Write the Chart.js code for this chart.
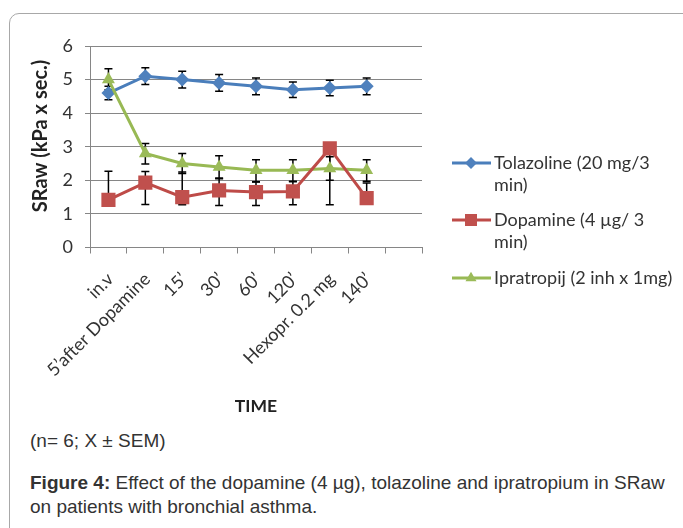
<!DOCTYPE html>
<html>
<head>
<meta charset="utf-8">
<script src="https://cdn.jsdelivr.net/npm/chart.js@4.4.1/dist/chart.umd.min.js"></script>
<style>
  html, body { margin: 0; padding: 0; background: #fff; }
  body { width: 683px; height: 528px; overflow: hidden; position: relative; font-family: "Liberation Sans", Arial, sans-serif; }
  .frame { position: absolute; left: 9px; top: 13px; width: 720px; height: 560px; border: 1px solid #a8a8a8; border-radius: 10px; }
  #wrap { position: absolute; left: 0; top: 0; width: 683px; height: 425px; }
  .note { position: absolute; left: 30px; top: 430px; font-size: 19px; line-height: 22px; color: #333; }
  .caption { position: absolute; left: 30px; top: 471px; font-size: 19px; line-height: 24px; color: #333; white-space: nowrap; }
</style>
</head>
<body>
<div class="frame"></div>
<div id="wrap"><canvas id="chart" width="683" height="425"></canvas></div>
<div class="note">(n= 6; X ± SEM)</div>
<div class="caption"><b>Figure 4:</b> Effect of the dopamine (4 µg), tolazoline and ipratropium in SRaw<br>on patients with bronchial asthma.</div>
<script>
// Chart data
const timeLabels = ['in.v', '5’after Dopamine', '15’', '30’', '60’', '120’', 'Hexopr. 0.2 mg', '140’', ''];
const yTicks = [0, 1, 2, 3, 4, 5, 6];

const tolazoline = [4.6, 5.1, 5.0, 4.9, 4.8, 4.7, 4.75, 4.8];
const tolazolineErrUp = [0.2, 0.25, 0.25, 0.25, 0.25, 0.23, 0.23, 0.25];
const tolazolineErrDown = [0.2, 0.25, 0.25, 0.25, 0.25, 0.23, 0.23, 0.25];

const dopamine = [1.42, 1.93, 1.5, 1.7, 1.65, 1.67, 2.95, 1.47];
const dopamineErrUp = [0.85, 0.33, 0.75, 0.35, 0.3, 0.3, 0, 0.45];
const dopamineErrDown = [0, 0.65, 0.23, 0.45, 0.4, 0.4, 1.68, 0];

const ipratropij = [5.0, 2.8, 2.5, 2.4, 2.3, 2.3, 2.35, 2.3];
const ipratropijErrUp = [0.32, 0.3, 0.3, 0.33, 0.31, 0.31, 0.35, 0.31];
const ipratropijErrDown = [0.3, 0.31, 0.3, 0.33, 0.34, 0.34, 0.35, 0.33];

const legendLines = [
    ['Tolazoline (20 mg/3', 'min)'],
    ['Dopamine (4 µg/ 3', 'min)'],
    ['Ipratropij (2 inh x 1mg)']
];

const FONT = 'Lato, "Open Sans", sans-serif';

function drawMarker(ctx, style, x, y, r, color) {
    ctx.save();
    ctx.fillStyle = color;
    ctx.beginPath();
    if (style === 'rectRot') {
        ctx.moveTo(x, y - r);
        ctx.lineTo(x + r, y);
        ctx.lineTo(x, y + r);
        ctx.lineTo(x - r, y);
    } else if (style === 'rect') {
        const s = r * Math.SQRT1_2;
        ctx.rect(x - s, y - s, 2 * s, 2 * s);
    } else {
        ctx.moveTo(x, y - r);
        ctx.lineTo(x + r * Math.sin(Math.PI * 2 / 3), y - r * Math.cos(Math.PI * 2 / 3));
        ctx.lineTo(x - r * Math.sin(Math.PI * 2 / 3), y - r * Math.cos(Math.PI * 2 / 3));
    }
    ctx.closePath();
    ctx.fill();
    ctx.restore();
}

// error bars, drawn under the series
const errorBars = {
    id: 'errorBars',
    beforeDatasetsDraw(chart) {
        const ctx = chart.ctx;
        const yScale = chart.scales.y;
        ctx.save();
        ctx.strokeStyle = '#000';
        ctx.lineWidth = 1.5;
        chart.data.datasets.forEach((ds, di) => {
            const meta = chart.getDatasetMeta(di);
            ds.data.forEach((v, i) => {
                const x = meta.data[i].x;
                const yTop = yScale.getPixelForValue(v + ds.errUp[i]);
                const yBot = yScale.getPixelForValue(v - ds.errDown[i]);
                ctx.beginPath();
                ctx.moveTo(x, yTop);
                ctx.lineTo(x, yBot);
                if (ds.errUp[i] > 0) {
                    ctx.moveTo(x - 4, yTop);
                    ctx.lineTo(x + 4, yTop);
                }
                if (ds.errDown[i] > 0) {
                    ctx.moveTo(x - 4, yBot);
                    ctx.lineTo(x + 4, yBot);
                }
                ctx.stroke();
            });
        });
        ctx.restore();
    }
};

// legend on the right and the y axis title
const sideText = {
    id: 'sideText',
    afterDraw(chart) {
        const ctx = chart.ctx;
        const rows = [163, 220, 278];
        ctx.save();
        chart.data.datasets.forEach((ds, di) => {
            const y = rows[di];
            ctx.strokeStyle = ds.borderColor;
            ctx.lineWidth = 3;
            ctx.beginPath();
            ctx.moveTo(452, y);
            ctx.lineTo(491, y);
            ctx.stroke();
            drawMarker(ctx, ds.pointStyle, 471, y, ds.pointRadius * 0.85, ds.pointBackgroundColor);
            ctx.fillStyle = '#333';
            ctx.font = '18px ' + FONT;
            ctx.textAlign = 'left';
            ctx.textBaseline = 'middle';
            legendLines[di].forEach((line, li) => {
                ctx.fillText(line, 494, y + li * 22.5);
            });
        });
        ctx.translate(41, 136);
        ctx.rotate(-Math.PI / 2);
        ctx.font = 'bold 20px ' + FONT;
        ctx.fillStyle = '#222';
        ctx.textAlign = 'center';
        ctx.textBaseline = 'middle';
        ctx.fillText('SRaw (kPa x sec.)', 0, 0);
        ctx.restore();
    }
};

new Chart(document.getElementById('chart'), {
    type: 'line',
    data: {
        labels: timeLabels,
        datasets: [{
            label: legendLines[0].join(' '),
            data: tolazoline,
            errUp: tolazolineErrUp,
            errDown: tolazolineErrDown,
            borderColor: '#4A7EBB',
            backgroundColor: '#4F81BD',
            pointBackgroundColor: '#4F81BD',
            pointBorderWidth: 0,
            pointStyle: 'rectRot',
            pointRadius: 7,
            borderWidth: 3,
            tension: 0,
            order: 3
        }, {
            label: legendLines[1].join(' '),
            data: dopamine,
            errUp: dopamineErrUp,
            errDown: dopamineErrDown,
            borderColor: '#BE4B48',
            backgroundColor: '#C0504D',
            pointBackgroundColor: '#C0504D',
            pointBorderWidth: 0,
            pointStyle: 'rect',
            pointRadius: 10,
            borderWidth: 3,
            tension: 0,
            order: 1
        }, {
            label: legendLines[2].join(' '),
            data: ipratropij,
            errUp: ipratropijErrUp,
            errDown: ipratropijErrDown,
            borderColor: '#98B954',
            backgroundColor: '#9BBB59',
            pointBackgroundColor: '#9BBB59',
            pointBorderWidth: 0,
            pointStyle: 'triangle',
            pointRadius: 7.5,
            borderWidth: 3,
            tension: 0,
            order: 2
        }]
    },
    options: {
        responsive: false,
        animation: false,
        devicePixelRatio: 1,
        layout: {
            padding: { left: 0, right: 261, top: 46, bottom: 0 }
        },
        plugins: {
            legend: { display: false },
            tooltip: { enabled: false }
        },
        scales: {
            x: {
                offset: true,
                grid: {
                    drawOnChartArea: false,
                    offset: true,
                    tickLength: 6,
                    color: '#868686'
                },
                border: { color: '#868686' },
                ticks: {
                    autoSkip: false,
                    maxRotation: 45,
                    minRotation: 45,
                    padding: 15,
                    labelOffset: 2,
                    color: '#333',
                    font: { family: FONT, size: 18 }
                },
                title: {
                    display: true,
                    text: 'TIME',
                    color: '#222',
                    font: { family: FONT, size: 17.5, weight: 'bold' },
                    padding: { top: 0, bottom: 8 }
                },
                afterFit(scale) { scale.height = 177.5; }
            },
            y: {
                min: 0,
                max: 6,
                afterBuildTicks(scale) { scale.ticks = yTicks.map(v => ({ value: v })); },
                grid: {
                    color: '#868686',
                    tickLength: 5
                },
                border: { color: '#868686' },
                ticks: {
                    padding: 12,
                    color: '#333',
                    font: { family: FONT, size: 18 }
                },
                afterFit(scale) { scale.width = 90; }
            }
        }
    },
    plugins: [errorBars, sideText]
});
</script>
</body>
</html>
